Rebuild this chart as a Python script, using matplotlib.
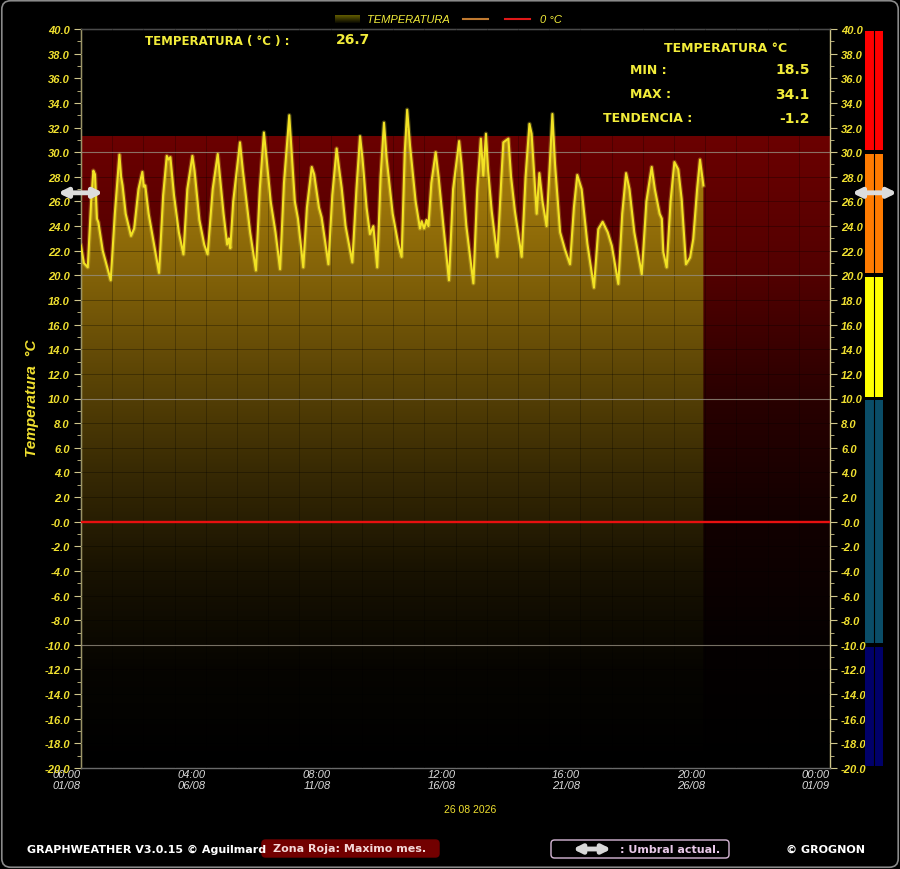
import numpy as np
import matplotlib
matplotlib.use('Agg')
import matplotlib.pyplot as plt
from matplotlib.patches import Rectangle, FancyBboxPatch, PathPatch
from matplotlib.transforms import blended_transform_factory

# ---------------- data ----------------
day = [0.00, 0.12, 0.28, 0.42, 0.51, 0.58, 0.66, 0.72, 0.90, 1.23, 1.40, 1.59, 1.66, 1.72, 1.85,
       2.07, 2.20, 2.38, 2.54, 2.60, 2.66, 2.80, 3.23, 3.40, 3.55, 3.62, 3.70, 3.85, 4.05, 4.24,
       4.40, 4.61, 4.70, 4.90, 5.10, 5.24, 5.45, 5.56, 5.66, 5.75, 5.90, 6.05, 6.12, 6.18, 6.30,
       6.58, 6.70, 6.85, 7.00, 7.24, 7.40, 7.57, 7.68, 7.85, 7.96, 8.05, 8.24, 8.40, 8.62, 8.72,
       8.85, 8.98, 9.20, 9.35, 9.55, 9.65, 9.85, 9.96, 10.24, 10.40, 10.58, 10.66, 10.79, 10.95,
       11.23, 11.40, 11.55, 11.65, 11.82, 11.96, 12.10, 12.26, 12.40, 12.54, 12.65, 12.90, 13.13,
       13.27, 13.40, 13.50, 13.62, 13.85, 14.03, 14.10, 14.20, 14.30, 14.38, 14.50, 14.68, 14.80,
       15.00, 15.23, 15.40, 15.65, 15.75, 15.95, 16.24, 16.40, 16.55, 16.65, 16.76, 16.85, 17.00,
       17.23, 17.40, 17.48, 17.69, 17.80, 17.96, 18.24, 18.40, 18.56, 18.65, 18.86, 18.97, 19.10,
       19.27, 19.51, 19.62, 19.83, 20.03, 20.24, 20.40, 20.54, 20.72, 20.96, 21.23, 21.41, 21.59,
       21.80, 21.97, 22.24, 22.40, 22.56, 22.70, 22.90, 23.21, 23.40, 23.62, 23.75, 23.95, 24.04,
       24.10, 24.24, 24.40, 24.56, 24.72, 24.86, 25.04, 25.21, 25.34, 25.50, 25.62, 25.76]
temp = [22.4, 21.0, 20.65, 26.0, 28.5, 28.2, 24.6, 24.3, 22.0, 19.6, 25.0, 29.8, 28.0, 27.3, 25.0,
        23.2, 23.8, 27.0, 28.4, 27.2, 27.3, 25.0, 20.2, 26.5, 29.7, 29.4, 29.6, 26.5, 23.5, 21.7,
        27.0, 29.7, 28.5, 24.5, 22.5, 21.7, 27.0, 28.5, 29.85, 28.0, 25.0, 22.5, 23.0, 22.2, 26.0,
        30.8, 28.5, 26.0, 23.5, 20.4, 27.0, 31.6, 29.5, 26.0, 24.6, 23.5, 20.5, 27.5, 33.0, 30.0,
        26.0, 24.6, 20.65, 25.5, 28.8, 28.2, 25.5, 24.7, 20.9, 26.5, 30.3, 29.0, 27.1, 24.0,
        21.05, 27.0, 31.3, 29.5, 25.5, 23.35, 24.0, 20.65, 28.0, 32.4, 29.5, 25.0, 22.55,
        21.5, 30.0, 33.45, 30.5, 26.0, 23.8, 24.4, 23.8, 24.5, 24.0, 27.5, 30.0, 28.0,
        24.0, 19.6, 27.0, 30.9, 29.0, 24.0, 19.35, 27.0, 31.1, 28.1, 31.5, 28.5, 25.2,
        21.5, 28.0, 30.8, 31.1, 28.0, 25.2, 21.5, 28.0, 32.3, 31.5, 25.0, 28.3, 26.0,
        24.0, 33.1, 29.0, 23.5, 22.1, 20.9, 25.5, 28.15, 27.0, 22.55, 19.0, 23.75, 24.35,
        23.5, 22.4, 19.3, 25.0, 28.3, 27.0, 23.5, 20.1, 26.0, 28.8, 27.0, 25.0, 24.6,
        21.9, 20.65, 26.0, 29.2, 28.6, 26.2, 20.9, 21.46, 22.95, 27.0, 29.4, 27.3]

x_tick_labels = ['00:00\n01/08', '04:00\n06/08', '08:00\n11/08', '12:00\n16/08',
                 '16:00\n21/08', '20:00\n26/08', '00:00\n01/09']
date_label = '26 08 2026'
temp_actual = 26.7
temp_min = 18.5
temp_max = 34.1
tendencia = -1.2
zona_roja = 31.3          # maximo mes (top of red zone)
umbral = 26.7             # current threshold arrow
umbral_lines = [30, 20, 10, -10]
band_edges = [40, 30, 20, 10, -10, -20]
band_colors = ['#ff0000', '#ff7b00', '#ffff00', '#0a4d68', '#00006a']

# ---------------- figure ----------------
W, H = 900, 870
fig = plt.figure(figsize=(W / 100, H / 100), dpi=100, facecolor='black')


def fx(x):
    return x / W


def fy(y):
    return 1 - y / H


ax = fig.add_axes([fx(81), fy(769), 749 / W, 739 / H])
ax.set_facecolor('black')
XMAX = 31.0
ax.set_xlim(0, XMAX)
ax.set_ylim(-20, 40)

# red zone gradient (dark red fading to black)
yy = np.linspace(-20, zona_roja, 300)
red = np.interp(yy, [-20, -10, 0, 10, 20, 31.3], [0.0, 0.02, 0.07, 0.16, 0.32, 0.42])
rz = np.zeros((len(yy), 1, 3))
rz[:, 0, 0] = red
ax.imshow(rz, extent=[0, XMAX, -20, zona_roja], aspect='auto', origin='lower',
          zorder=1, interpolation='bilinear')

# golden gradient fill under the curve
yg = np.linspace(-20, 40, 400)
scale = np.interp(yg, [-20, -12, -4, 4, 12, 20, 26, 34], [0.0, 0.03, 0.12, 0.27, 0.45, 0.64, 0.76, 0.84])
gold = np.zeros((len(yg), 1, 3))
gold[:, 0, 0] = 0.80 * scale
gold[:, 0, 1] = 0.60 * scale
gold[:, 0, 2] = 0.05 * scale
im = ax.imshow(gold, extent=[0, XMAX, -20, 40], aspect='auto', origin='lower',
               zorder=2, interpolation='bilinear')
poly = ax.fill_between(day, temp, -20, facecolor='none', edgecolor='none')
clip = PathPatch(poly.get_paths()[0], transform=ax.transData, facecolor='none', edgecolor='none')
ax.add_patch(clip)
im.set_clip_path(clip)

# dark grid
for v in range(-20, 41, 2):
    ax.axhline(v, color='black', lw=0.6, alpha=0.35, zorder=3)
for xv in np.arange(0, XMAX, XMAX / 24):
    ax.axvline(xv, color='black', lw=0.6, alpha=0.3, zorder=3)

# threshold lines
for v in umbral_lines:
    ax.axhline(v, color='#a8a090', lw=0.8, alpha=0.7, zorder=4)
ax.axhline(0, color='#e81010', lw=1.7, zorder=5)

# temperature curve
ax.plot(day, temp, color='#ffee40', lw=3.2, alpha=0.25, zorder=6, solid_joinstyle='round')
ax.plot(day, temp, color='#f2e224', lw=1.5, zorder=7, solid_joinstyle='round')

# axes styling
for s in ['left', 'right']:
    ax.spines[s].set_color('#cfc68a')
    ax.spines[s].set_linewidth(1.0)
for s in ['top', 'bottom']:
    ax.spines[s].set_color('#6a6a6a')
    ax.spines[s].set_linewidth(1.0)

yt = np.arange(-20, 41, 2)
ax.set_yticks(yt)
ax.set_yticks(np.arange(-20, 41, 1), minor=True)
ylabels = ['-0.0' if v == 0 else f'{v:.1f}' for v in yt]
ax.set_yticklabels(ylabels)
ax.tick_params(axis='y', which='both', left=True, right=True, labelleft=True, labelright=True,
               direction='out', color='#cfc68a', labelcolor='#f0e030', labelsize=8)
ax.tick_params(axis='y', which='major', length=5, pad=3)
ax.tick_params(axis='y', which='minor', length=3)
for lab in ax.get_yticklabels():
    lab.set_fontweight('bold')
    lab.set_fontstyle('italic')
    lab.set_family('Liberation Sans')

ax.set_xticks([i * XMAX / 6 for i in range(7)])
ax.set_xticklabels(x_tick_labels, ha='right', color='#dcdcdc', fontsize=8,
                   fontstyle='italic', family='Liberation Sans', linespacing=1.05)
ax.tick_params(axis='x', length=0, pad=1)

fig.text(fx(32), fy(398), 'Temperatura  °C', rotation=90, color='#f0e030', fontsize=11,
         fontweight='bold', fontstyle='italic', family='Liberation Sans', ha='center', va='center')
fig.text(fx(470), fy(810), date_label, color='#f0e030', fontsize=7.5, ha='center', va='center',
         family='Liberation Sans')

# right colour bar
bt = blended_transform_factory(fig.transFigure, ax.transData)
for i, c in enumerate(band_colors):
    top, bot = band_edges[i], band_edges[i + 1]
    r = Rectangle((fx(865), bot + 0.15), fx(883) - fx(865), (top - bot) - 0.3, transform=bt,
                  facecolor=c, edgecolor='none', clip_on=False, zorder=5)
    ax.add_patch(r)
ax.plot([fx(874), fx(874)], [-20, 40], transform=bt, color='black', lw=0.8, clip_on=False, zorder=6)

# threshold arrows
for x0, x1 in [(58, 103), (852, 897)]:
    ax.annotate('', xy=(fx(x0), umbral), xytext=(fx(x1), umbral), xycoords=bt, textcoords=bt,
                arrowprops=dict(arrowstyle='<|-|>', color='#dcdcdc', lw=3.5, mutation_scale=13,
                                shrinkA=0, shrinkB=0), annotation_clip=False, zorder=9)

# header texts
ytxt = '#f2ec3a'
fig.text(fx(145), fy(41), 'TEMPERATURA ( °C ) :', color=ytxt, fontsize=8.5, fontweight='bold', va='center')
fig.text(fx(336), fy(40), f'{temp_actual:.1f}', color=ytxt, fontsize=10, fontweight='bold', va='center')
fig.text(fx(726), fy(49), 'TEMPERATURA °C', color=ytxt, fontsize=9, fontweight='bold', ha='center', va='center')
fig.text(fx(630), fy(70), 'MIN :', color=ytxt, fontsize=9, fontweight='bold', va='center')
fig.text(fx(810), fy(70), f'{temp_min:.1f}', color=ytxt, fontsize=10, fontweight='bold', ha='right', va='center')
fig.text(fx(630), fy(95), 'MAX :', color=ytxt, fontsize=9, fontweight='bold', va='center')
fig.text(fx(810), fy(95), f'{temp_max:.1f}', color=ytxt, fontsize=10, fontweight='bold', ha='right', va='center')
fig.text(fx(603), fy(119), 'TENDENCIA :', color=ytxt, fontsize=9, fontweight='bold', va='center')
fig.text(fx(810), fy(119), f'{tendencia:.1f}', color=ytxt, fontsize=10, fontweight='bold', ha='right', va='center')

# legend
lax = fig.add_axes([fx(335), fy(24), fx(360) - fx(335), 8 / H])
lg = np.linspace(0.05, 0.45, 20)
lgrad = np.zeros((20, 1, 3))
lgrad[:, 0, 0] = lg * 0.85
lgrad[:, 0, 1] = lg * 0.8
lgrad[:, 0, 2] = 0.0
lax.imshow(lgrad, aspect='auto', origin='lower', extent=[0, 1, 0, 1])
lax.axis('off')
fig.text(fx(367), fy(20), 'TEMPERATURA', color=ytxt, fontsize=8, fontstyle='italic',
         family='Liberation Sans', va='center')
fig.add_artist(plt.Line2D([fx(463), fx(488)], [fy(20), fy(20)], color='#c07a30', lw=1.5))
fig.add_artist(plt.Line2D([fx(505), fx(530)], [fy(20), fy(20)], color='#e01818', lw=1.5))
fig.text(fx(540), fy(20), '0 °C', color=ytxt, fontsize=8, fontstyle='italic',
         family='Liberation Sans', va='center')

# footer
fig.text(fx(27), fy(850), 'GRAPHWEATHER V3.0.15 © Aguilmard', color='white', fontsize=8,
         fontweight='bold', va='center')
fig.add_artist(FancyBboxPatch((fx(262), fy(858)), fx(439) - fx(262), 17 / H,
                              boxstyle='round,pad=0,rounding_size=0.004', transform=fig.transFigure,
                              facecolor='#720000', edgecolor='#720000'))
fig.text(fx(350), fy(849), 'Zona Roja: Maximo mes.', color='#f4d8d8', fontsize=8,
         fontweight='bold', ha='center', va='center')
fig.add_artist(FancyBboxPatch((fx(551), fy(859)), fx(729) - fx(551), 18 / H,
                              boxstyle='round,pad=0,rounding_size=0.004', transform=fig.transFigure,
                              facecolor='black', edgecolor='#d8b8d8', lw=1.0))
fig.add_artist(matplotlib.patches.FancyArrowPatch((fx(570), fy(850)), (fx(614), fy(850)),
                                                  transform=fig.transFigure, arrowstyle='<|-|>',
                                                  color='#d8d8d8', lw=3.5, mutation_scale=12))
fig.text(fx(620), fy(850), ': Umbral actual.', color='#e8c8e8', fontsize=8, fontweight='bold', va='center')
fig.text(fx(786), fy(850), '© GROGNON', color='white', fontsize=8, fontweight='bold', va='center')

# outer border
fig.add_artist(FancyBboxPatch((0.002, 0.002), 0.996, 0.996, boxstyle='round,pad=0,rounding_size=0.01',
                              transform=fig.transFigure, facecolor='none', edgecolor='#8a8a8a', lw=1.2))

fig.savefig('out.png', dpi=100, facecolor='black')
